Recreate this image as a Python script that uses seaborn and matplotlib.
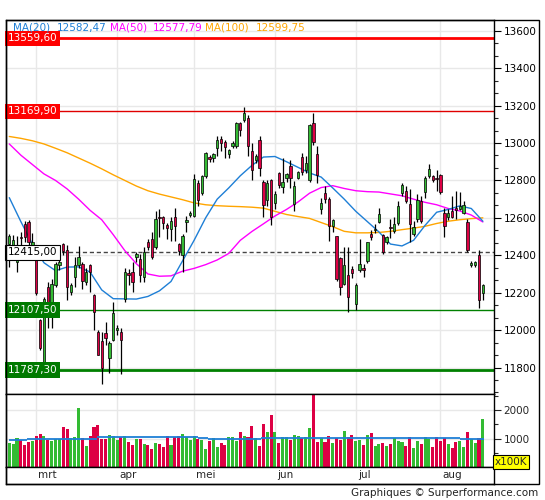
import matplotlib
matplotlib.use("Agg")
import matplotlib.pyplot as plt
import matplotlib.patches as patches
from matplotlib.ticker import MultipleLocator, AutoMinorLocator, FixedLocator
import seaborn as sns
import numpy as np

opens = [12460, 12455, 12365, 12500, 12567, 12579, 12445, 12434, 12054, 11820,
         12231, 12081, 12240, 12346, 12460, 12430, 12205, 12284, 12346, 12355,
         12257, 12346, 12187, 11992, 11940, 11983, 11851, 11948, 12000, 11992,
         12169, 12305, 12313, 12392, 12381, 12284, 12469, 12487, 12443, 12605,
         12602, 12563, 12540, 12602, 12460, 12399, 12580, 12615, 12611, 12784,
         12734, 12823, 12925, 12920, 12973, 13020, 13008, 12943, 12985, 12982,
         13109, 13123, 13132, 12955, 12910, 13014, 12791, 12696, 12801, 12681,
         12840, 12766, 12814, 12876, 12672, 12814, 12925, 12858, 12805, 13109,
         12943, 12649, 12734, 12702, 12558, 12505, 12386, 12248, 12293, 12328,
         12142, 12323, 12330, 12367, 12514, 12535, 12579, 12508, 12469, 12552,
         12531, 12572, 12731, 12743, 12673, 12514, 12593, 12690, 12738, 12826,
         12823, 12815, 12828, 12625, 12602, 12637, 12655, 12650, 12628, 12579,
         12350, 12350, 12402, 12200]
highs = [12515, 12510, 12505, 12522, 12585, 12590, 12520, 12450, 12060, 12175,
         12257, 12275, 12365, 12380, 12465, 12455, 12250, 12390, 12450, 12365,
         12330, 12355, 12195, 12000, 11990, 12045, 11940, 12151, 12030, 12010,
         12330, 12328, 12363, 12416, 12407, 12443, 12487, 12522, 12637, 12646,
         12610, 12570, 12602, 12655, 12465, 12514, 12611, 12637, 12832, 12800,
         12830, 12950, 12935, 12945, 13035, 13035, 13017, 12970, 13010, 13112,
         13115, 13194, 13150, 12999, 12940, 13035, 12800, 12800, 12808, 12743,
         12845, 12920, 12840, 12911, 12796, 12850, 12946, 12929, 13100, 13158,
         12982, 12707, 12770, 12710, 12595, 12505, 12390, 12443, 12443, 12345,
         12250, 12487, 12355, 12470, 12537, 12567, 12655, 12515, 12501, 12593,
         12602, 12690, 12787, 12770, 12752, 12584, 12726, 12717, 12823, 12888,
         12830, 12858, 12835, 12655, 12646, 12717, 12743, 12740, 12690, 12595,
         12370, 12370, 12430, 12248]
lows = [12340, 12390, 12310, 12435, 12470, 12440, 12420, 12190, 11895, 11800,
        12010, 12010, 12230, 12320, 12400, 12160, 12187, 12230, 12330, 12222,
        12240, 12205, 12000, 11868, 11710, 11920, 11772, 11940, 11975, 11763,
        12150, 12240, 12205, 12363, 12257, 12257, 12430, 12380, 12434, 12496,
        12540, 12487, 12478, 12478, 12399, 12310, 12522, 12602, 12602, 12664,
        12720, 12814, 12900, 12900, 12930, 12960, 12920, 12920, 12975, 12975,
        13040, 13110, 12929, 12801, 12895, 12823, 12607, 12664, 12561, 12646,
        12760, 12735, 12790, 12760, 12637, 12808, 12830, 12840, 12790, 12990,
        12787, 12620, 12680, 12478, 12522, 12260, 12187, 12240, 12098, 12280,
        12107, 12310, 12285, 12360, 12480, 12520, 12570, 12408, 12460, 12495,
        12520, 12560, 12717, 12680, 12469, 12505, 12580, 12570, 12708, 12815,
        12790, 12743, 12730, 12496, 12590, 12600, 12593, 12640, 12620, 12420,
        12340, 12340, 12116, 12160]
closes = [12505, 12480, 12420, 12490, 12496, 12473, 12470, 12196, 11904, 12169,
          12107, 12249, 12355, 12363, 12425, 12231, 12240, 12346, 12390, 12261,
          12310, 12310, 12098, 11869, 11800, 11957, 11930, 12089, 12010, 11948,
          12310, 12295, 12257, 12405, 12296, 12416, 12443, 12390, 12593, 12598,
          12575, 12545, 12584, 12557, 12425, 12505, 12590, 12625, 12808, 12696,
          12823, 12946, 12915, 12940, 13017, 12999, 12978, 12964, 13000, 13109,
          13070, 13158, 12982, 12855, 12930, 12867, 12667, 12787, 12607, 12725,
          12773, 12791, 12837, 12814, 12770, 12844, 12844, 12893, 13097, 13008,
          12831, 12681, 12699, 12558, 12588, 12271, 12231, 12349, 12178, 12307,
          12243, 12354, 12322, 12469, 12496, 12543, 12619, 12420, 12496, 12545,
          12566, 12664, 12773, 12690, 12567, 12549, 12696, 12584, 12814, 12861,
          12805, 12808, 12738, 12554, 12625, 12607, 12640, 12662, 12667, 12430,
          12360, 12362, 12160, 12240]
volume = [857, 821, 1035, 964, 785, 892, 928, 1107, 1178, 1107,
          964, 928, 1000, 1000, 1392, 1321, 1035, 1071, 2071, 1035,
          750, 1107, 1392, 1464, 1000, 1000, 1142, 1107, 964, 1071,
          1107, 892, 785, 1000, 1000, 821, 785, 642, 857, 821,
          714, 1107, 785, 1071, 1107, 1178, 1071, 964, 1107, 1000,
          964, 642, 928, 1035, 714, 857, 785, 1071, 1071, 928,
          1250, 1107, 1071, 1428, 1035, 726, 1523, 1226, 1821, 1250,
          857, 1071, 1071, 964, 1142, 1107, 1023, 1071, 1357, 2700,
          892, 1023, 892, 1107, 857, 1023, 964, 1285, 1071, 1142,
          928, 964, 785, 1142, 1214, 750, 821, 857, 750, 821,
          1023, 928, 892, 750, 1071, 678, 928, 821, 1071, 1000,
          714, 1071, 928, 1023, 821, 678, 892, 928, 714, 1250,
          1000, 857, 1023, 1678]

# moving averages read every 3 sessions
ma_idx = list(range(0, 124, 3))
ma20 = [12708, 12580, 12460, 12360, 12318, 12337, 12338, 12310, 12215, 12168,
        12167, 12166, 12180, 12210, 12260, 12370, 12480, 12600, 12700, 12760,
        12825, 12880, 12925, 12928, 12900, 12870, 12840, 12818, 12760, 12700,
        12635, 12580, 12525, 12460, 12450, 12480, 12560, 12630, 12645, 12664,
        12650, 12582]
ma50 = [12995, 12935, 12885, 12835, 12800, 12755, 12700, 12640, 12590, 12510,
        12425, 12355, 12300, 12288, 12290, 12315, 12330, 12350, 12375, 12410,
        12480, 12527, 12568, 12610, 12645, 12685, 12732, 12762, 12772, 12757,
        12745, 12740, 12738, 12728, 12718, 12700, 12683, 12670, 12650, 12637,
        12615, 12578]
ma100 = [13035, 13025, 13012, 12995, 12972, 12948, 12920, 12892, 12862, 12830,
         12800, 12770, 12745, 12727, 12712, 12697, 12680, 12670, 12665, 12662,
         12660, 12657, 12652, 12635, 12618, 12607, 12597, 12575, 12553, 12528,
         12520, 12520, 12522, 12528, 12537, 12545, 12555, 12570, 12582, 12590,
         12596, 12600]

vol_ma_from = [0, 4.5, 22.7, 49.1, 51.7, 65.5, 107.1, 117]
vol_ma_to = [4.5, 22.7, 49.1, 51.7, 65.5, 107.1, 117, 123.4]
vol_ma = [950, 990, 1060, 1023, 988, 1023, 1023, 988]

months = ["mrt", "apr", "mei", "jun", "jul", "aug"]
month_start = [7, 28, 48, 69, 90, 112]

levels = [13559.60, 13169.90, 12415.00, 12107.50, 11787.30]
level_labels = ["13559,60", "13169,90", "12415,00", "12107,50", "11787,30"]

GREEN = "#33bb33"
RED = "#dd0044"
C20, C50, C100 = "#1e7fd6", "#ff00ff", "#ffa500"

sns.set_theme(style="white")
plt.rcParams["font.family"] = ["DejaVu Sans"]
FS = 7.5

W, H = 545, 500
fig = plt.figure(figsize=(W / 100, H / 100), dpi=100)


def box(l, t, r, b):
    return [l / W, 1 - b / H, (r - l) / W, (b - t) / H]


ax = fig.add_axes(box(6, 20, 494, 394))
axv = fig.add_axes(box(6, 394, 494, 467))
axd = fig.add_axes(box(6, 467, 494, 484))

idx = np.arange(len(closes))
o = np.array(opens, float)
c = np.array(closes, float)
up = c >= o
cols = [GREEN if u else RED for u in up]
xlim = ((6 - 9.3) / 3.85, (494 - 9.3) / 3.85)

# price panel
for m in month_start:
    ax.axvline(m, color="#e8e8e8", lw=1, zorder=0)
ax.yaxis.set_major_locator(MultipleLocator(200))
ax.yaxis.set_minor_locator(AutoMinorLocator(3))
ax.grid(axis="y", which="major", color="#e8e8e8", lw=1)
ax.set_axisbelow(True)

ax.axhline(levels[0], color="#ff0000", lw=2, zorder=2)
ax.axhline(levels[1], color="#e00000", lw=1, zorder=2)
ax.axhline(levels[2], color="#444444", lw=1, ls=(0, (3, 2)), zorder=2)
ax.axhline(levels[3], color="#008000", lw=1, zorder=2)
ax.axhline(levels[4], color="#008000", lw=2, zorder=2)

sns.lineplot(x=ma_idx, y=ma100, color=C100, lw=1, ax=ax, zorder=3)
sns.lineplot(x=ma_idx, y=ma50, color=C50, lw=1, ax=ax, zorder=3)
sns.lineplot(x=ma_idx, y=ma20, color=C20, lw=1, ax=ax, zorder=3)

ax.vlines(idx, lows, highs, color="black", lw=0.9, zorder=4)
body_lo = np.minimum(o, c)
body_h = np.maximum(np.abs(c - o), 5)
ax.bar(idx, body_h, bottom=body_lo, width=0.62, color=cols,
       edgecolor="black", linewidth=0.5, zorder=5)

ax.set_xlim(*xlim)
ax.set_ylim(11658.6, 13657.5)
ax.yaxis.tick_right()
ax.tick_params(axis="y", which="major", direction="out", length=5, width=0.8,
               labelsize=FS, pad=2, colors="black", right=True, left=False)
ax.tick_params(axis="y", which="minor", direction="out", length=3, width=0.8,
               right=True, left=False)
ax.set_xticks([])
ax.set_xlabel("")
ax.set_ylabel("")
for s in ax.spines.values():
    s.set_color("black")
    s.set_linewidth(1)

tr = ax.get_yaxis_transform()
styles = [("#ff0000", "white", "none"), ("#ff0000", "white", "none"),
          ("white", "black", "black"), ("#007a00", "white", "none"),
          ("#007a00", "white", "none")]
for lv, lab, (fc, tc, ec) in zip(levels, level_labels, styles):
    ax.text(0.004, lv, lab, transform=tr, ha="left", va="center", fontsize=FS,
            color=tc, zorder=10,
            bbox=dict(boxstyle="square,pad=0.25", fc=fc, ec=ec, lw=0.8))

# volume panel
for m in month_start:
    axv.axvline(m, color="#e8e8e8", lw=1, zorder=0)
axv.yaxis.set_major_locator(FixedLocator([1000, 2000]))
axv.yaxis.set_minor_locator(FixedLocator([500, 1500, 2500]))
axv.grid(axis="y", which="major", color="#e8e8e8", lw=1)
axv.set_axisbelow(True)
axv.bar(idx, volume, width=0.8, color=cols, linewidth=0, antialiased=False,
        zorder=2)
for a, b, v in zip(vol_ma_from, vol_ma_to, vol_ma):
    axv.hlines(v, a, b, color="#1e7fd6", lw=1.3, zorder=3)
axv.set_xlim(*xlim)
axv.set_ylim(0, 2571)
axv.yaxis.tick_right()
axv.tick_params(axis="y", which="major", direction="out", length=5, width=0.8,
                labelsize=FS, pad=2, right=True, left=False)
axv.tick_params(axis="y", which="minor", direction="out", length=3, width=0.8,
                right=True, left=False)
axv.set_xticks([])
for s in axv.spines.values():
    s.set_color("black")
    s.set_linewidth(1)

# date strip
axd.set_xlim(*xlim)
axd.set_ylim(0, 1)
axd.set_xticks([])
axd.set_yticks([])
for s in axd.spines.values():
    s.set_color("black")
    s.set_linewidth(1)
for m, name in zip(month_start, months):
    axd.text(m + 0.5, 0.5, name, ha="left", va="center", fontsize=FS)

# outer frame
fig.patches.append(patches.Rectangle((6 / W, 1 - 484 / H), 533 / W, 464 / H,
                                     fill=False, ec="black", lw=1,
                                     transform=fig.transFigure))

fig.text(511 / W, 1 - 462 / H, "x100K", ha="center", va="center", fontsize=FS,
         bbox=dict(boxstyle="square,pad=0.15", fc="#ffff00", ec="black", lw=0.8))

legend = [("MA(20)", 13, C20), ("12582,47", 57, C20), ("MA(50)", 110, C50),
          ("12577,79", 153, C50), ("MA(100)", 205, C100), ("12599,75", 256, C100)]
for txt, x, col in legend:
    fig.text(x / W, 1 - 28 / H, txt, ha="left", va="center", fontsize=FS, color=col)

fig.text(538 / W, 1 - 493 / H, "Graphiques © Surperformance.com", ha="right",
         va="center", fontsize=FS, color="#222222")

fig.savefig("out.png", dpi=100)
